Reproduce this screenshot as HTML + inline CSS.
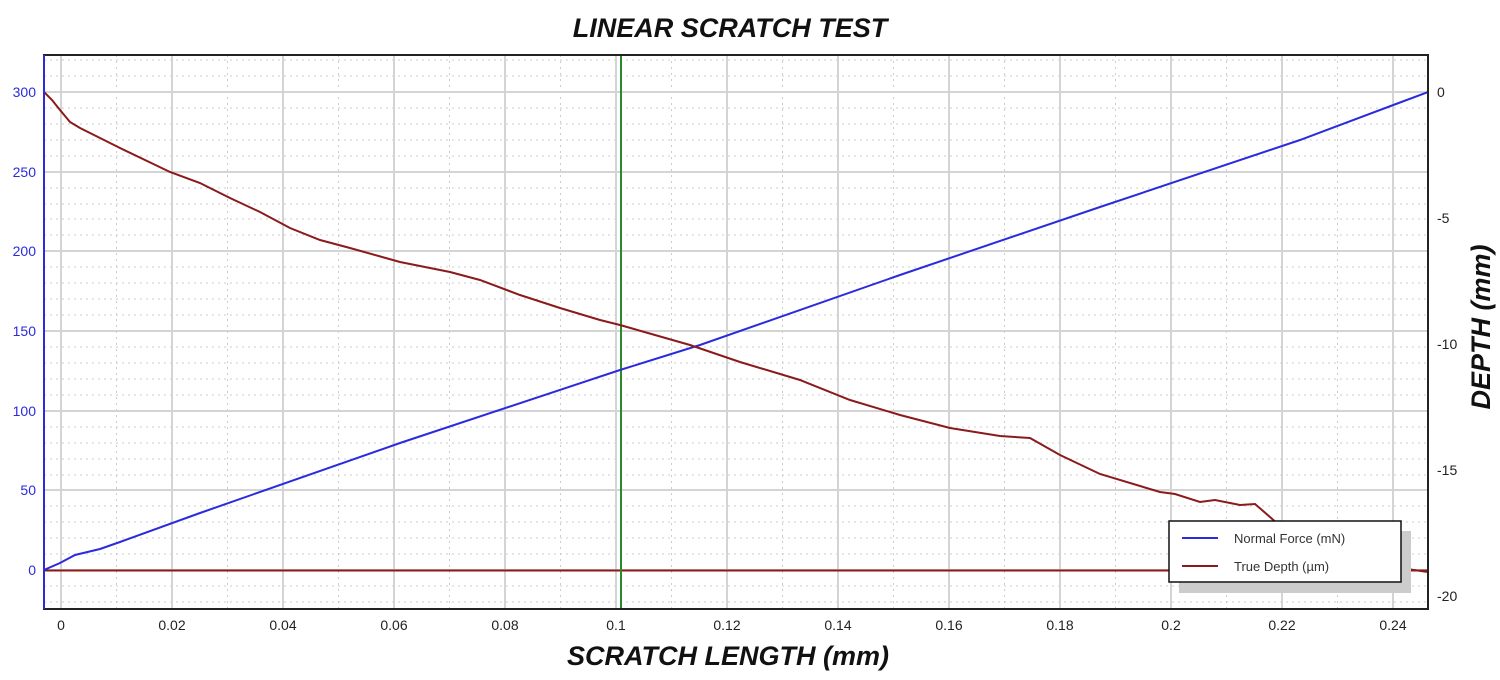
<!DOCTYPE html>
<html><head><meta charset="utf-8"><style>
body{margin:0;background:#fff;width:1500px;height:680px;overflow:hidden}
svg{display:block}
</style></head><body>
<svg width="1500" height="680" xmlns="http://www.w3.org/2000/svg" font-family="Liberation Sans, sans-serif">
<defs><clipPath id="c"><rect x="44" y="55" width="1384" height="554"/></clipPath></defs>
<g id="grid">
<!-- minor vertical dotted -->
<g stroke="#ccc" stroke-dasharray="2,4" stroke-width="1">
<line x1="116.5" y1="55" x2="116.5" y2="609"/><line x1="227.5" y1="55" x2="227.5" y2="609"/><line x1="338.5" y1="55" x2="338.5" y2="609"/><line x1="449.5" y1="55" x2="449.5" y2="609"/><line x1="560.5" y1="55" x2="560.5" y2="609"/><line x1="671.5" y1="55" x2="671.5" y2="609"/><line x1="782.5" y1="55" x2="782.5" y2="609"/><line x1="893.5" y1="55" x2="893.5" y2="609"/><line x1="1004.5" y1="55" x2="1004.5" y2="609"/><line x1="1115.5" y1="55" x2="1115.5" y2="609"/><line x1="1226.5" y1="55" x2="1226.5" y2="609"/><line x1="1337.5" y1="55" x2="1337.5" y2="609"/>
<line x1="44" y1="60" x2="1428" y2="60"/><line x1="44" y1="76" x2="1428" y2="76"/><line x1="44" y1="108" x2="1428" y2="108"/><line x1="44" y1="124" x2="1428" y2="124"/><line x1="44" y1="140" x2="1428" y2="140"/><line x1="44" y1="156" x2="1428" y2="156"/><line x1="44" y1="188" x2="1428" y2="188"/><line x1="44" y1="204" x2="1428" y2="204"/><line x1="44" y1="219" x2="1428" y2="219"/><line x1="44" y1="235" x2="1428" y2="235"/><line x1="44" y1="267" x2="1428" y2="267"/><line x1="44" y1="283" x2="1428" y2="283"/><line x1="44" y1="299" x2="1428" y2="299"/><line x1="44" y1="315" x2="1428" y2="315"/><line x1="44" y1="347" x2="1428" y2="347"/><line x1="44" y1="363" x2="1428" y2="363"/><line x1="44" y1="379" x2="1428" y2="379"/><line x1="44" y1="395" x2="1428" y2="395"/><line x1="44" y1="427" x2="1428" y2="427"/><line x1="44" y1="443" x2="1428" y2="443"/><line x1="44" y1="459" x2="1428" y2="459"/><line x1="44" y1="475" x2="1428" y2="475"/><line x1="44" y1="506" x2="1428" y2="506"/><line x1="44" y1="522" x2="1428" y2="522"/><line x1="44" y1="538" x2="1428" y2="538"/><line x1="44" y1="554" x2="1428" y2="554"/><line x1="44" y1="586" x2="1428" y2="586"/><line x1="44" y1="602" x2="1428" y2="602"/>
</g>
<g stroke="#d4d4d4" stroke-width="2">
<line x1="61" y1="55" x2="61" y2="609"/><line x1="172" y1="55" x2="172" y2="609"/><line x1="283" y1="55" x2="283" y2="609"/><line x1="394" y1="55" x2="394" y2="609"/><line x1="505" y1="55" x2="505" y2="609"/><line x1="616" y1="55" x2="616" y2="609"/><line x1="727" y1="55" x2="727" y2="609"/><line x1="838" y1="55" x2="838" y2="609"/><line x1="949" y1="55" x2="949" y2="609"/><line x1="1060" y1="55" x2="1060" y2="609"/><line x1="1171" y1="55" x2="1171" y2="609"/><line x1="1282" y1="55" x2="1282" y2="609"/><line x1="1393" y1="55" x2="1393" y2="609"/>
<line x1="44" y1="92" x2="1428" y2="92"/><line x1="44" y1="172" x2="1428" y2="172"/><line x1="44" y1="251" x2="1428" y2="251"/><line x1="44" y1="331" x2="1428" y2="331"/><line x1="44" y1="411" x2="1428" y2="411"/><line x1="44" y1="490" x2="1428" y2="490"/><line x1="44" y1="570" x2="1428" y2="570"/>
</g>
</g>
<g clip-path="url(#c)" fill="none" stroke-width="2">
<line x1="44" y1="570.5" x2="1428" y2="570.5" stroke="#8b1a1a"/>
<line x1="621" y1="55" x2="621" y2="609" stroke="#2a8a2a"/>
<polyline stroke="#2b2bdd" points="44,570 60,563 75,555 100,549 120,542 200,513 400,443 620,370 700,345 900,275 1100,207 1300,140 1428,92"/>
<polyline stroke="#8b1a1a" points="44,92 52,100 60,110 70,122 80,128 100,138 120,148 170,172 200,183 230,198 260,212 290,228 320,240 350,248 400,262 450,272 480,280 520,295 560,308 600,320 620,325 690,345 740,362 800,380 850,400 900,415 950,428 1000,436 1030,438 1060,455 1100,474 1160,492 1175,494 1200,502 1215,500 1240,505 1255,504 1270,517 1290,535 1400,568 1428,572"/>
</g>
<rect x="44" y="55" width="1384" height="554" fill="none" stroke="#222" stroke-width="2"/>
<line x1="44" y1="55" x2="44" y2="609" stroke="#2b2bdd" stroke-width="2"/>
<rect x="1179" y="531" width="232" height="62" fill="#ccc"/>
<rect x="1169" y="521" width="232" height="61" fill="#fff" stroke="#111" stroke-width="1.5"/>
<line x1="1182" y1="538" x2="1218" y2="538" stroke="#2b2bdd" stroke-width="2"/>
<line x1="1182" y1="566" x2="1218" y2="566" stroke="#8b1a1a" stroke-width="2"/>
<text x="1234" y="543" font-size="13" fill="#333">Normal Force (mN)</text>
<text x="1234" y="571" font-size="13" fill="#333">True Depth (µm)</text>
<g font-size="14" fill="#2b2bdd" text-anchor="end">
<text x="36" y="97">300</text><text x="36" y="177">250</text><text x="36" y="256">200</text><text x="36" y="336">150</text><text x="36" y="416">100</text><text x="36" y="495">50</text><text x="36" y="575">0</text>
</g>
<g font-size="14" fill="#222">
<text x="1437" y="97">0</text><text x="1437" y="223">-5</text><text x="1437" y="349">-10</text><text x="1437" y="475">-15</text><text x="1437" y="601">-20</text>
</g>
<g font-size="14" fill="#222" text-anchor="middle">
<text x="61" y="630">0</text><text x="172" y="630">0.02</text><text x="283" y="630">0.04</text><text x="394" y="630">0.06</text><text x="505" y="630">0.08</text><text x="616" y="630">0.1</text><text x="727" y="630">0.12</text><text x="838" y="630">0.14</text><text x="949" y="630">0.16</text><text x="1060" y="630">0.18</text><text x="1171" y="630">0.2</text><text x="1282" y="630">0.22</text><text x="1393" y="630">0.24</text>
</g>
<text x="730" y="37" font-size="27" font-weight="bold" font-style="italic" text-anchor="middle" fill="#111">LINEAR SCRATCH TEST</text>
<text x="728" y="665" font-size="27" font-weight="bold" font-style="italic" text-anchor="middle" fill="#111">SCRATCH LENGTH (mm)</text>
<text transform="translate(1490,327) rotate(-90)" font-size="27" font-weight="bold" font-style="italic" text-anchor="middle" fill="#111">DEPTH (mm)</text>
</svg>
</body></html>
